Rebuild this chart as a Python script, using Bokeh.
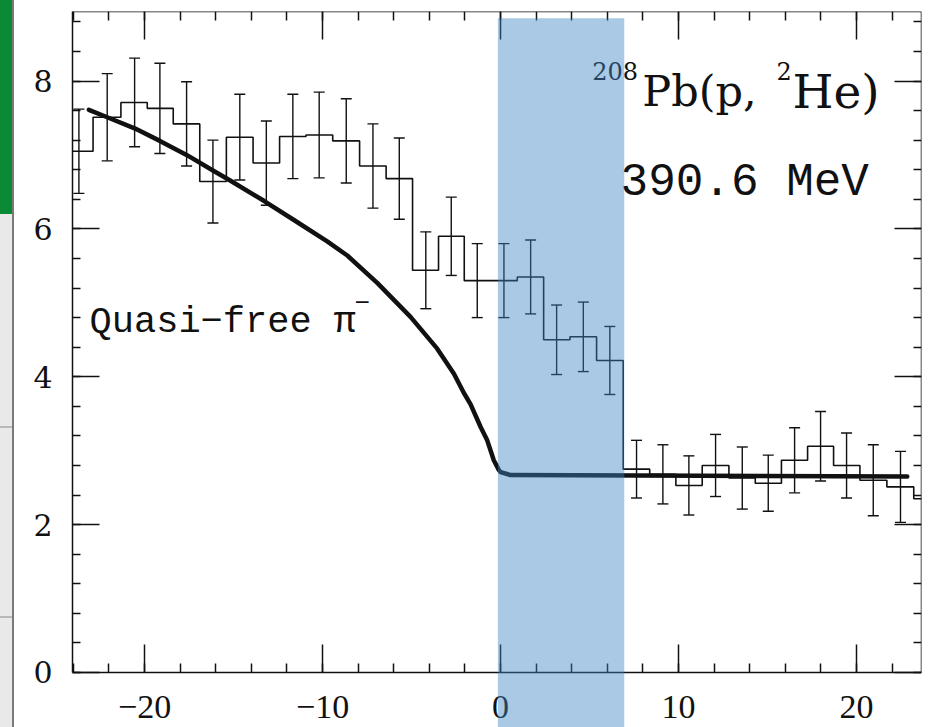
import numpy as np
from bokeh.plotting import figure
from bokeh.models import (LinearAxis, FixedTicker, BoxAnnotation, Whisker, TeeHead,
                          Label, ColumnDataSource, Range1d, Div)
from bokeh.layouts import row
from bokeh.embed import file_html
from bokeh.resources import INLINE

# ---------------- data ----------------
bin_centers = [-23.69, -22.10, -20.56, -19.14, -17.64, -16.16, -14.65, -13.16,
               -11.67, -10.19, -8.67, -7.17, -5.69, -4.20, -2.77, -1.31,
               0.19, 1.69, 3.15, 4.65, 6.14, 7.64, 9.12, 10.58,
               12.08, 13.58, 15.04, 16.52, 17.98, 19.44, 20.94, 22.47, 23.96]
counts = [7.05, 7.51, 7.71, 7.63, 7.42, 6.64, 7.24, 6.89,
          7.25, 7.27, 7.19, 6.85, 6.68, 5.44, 5.90, 5.30,
          5.30, 5.35, 4.50, 4.54, 4.22, 2.75, 2.68, 2.53,
          2.80, 2.63, 2.56, 2.87, 3.06, 2.80, 2.60, 2.51, 2.35]
errors = [0.57, 0.59, 0.60, 0.61, 0.57, 0.56, 0.58, 0.57,
          0.57, 0.58, 0.57, 0.57, 0.55, 0.52, 0.53, 0.50,
          0.50, 0.50, 0.47, 0.47, 0.46, 0.39, 0.40, 0.40,
          0.42, 0.42, 0.38, 0.44, 0.47, 0.44, 0.48, 0.48]

curve_x = [-23.13, -22.10, -20.56, -19.14, -17.64, -16.16, -15.17, -13.30,
           -11.61, -9.74, -8.61, -6.93, -5.06, -3.56, -2.62, -2.06,
           -1.69, -1.12, -0.75, -0.38, -0.10, 0.0, 0.56, 22.85]
curve_y = [7.61, 7.51, 7.36, 7.19, 7.00, 6.79, 6.65, 6.38,
           6.12, 5.83, 5.64, 5.27, 4.81, 4.38, 4.04, 3.78,
           3.63, 3.32, 3.14, 2.87, 2.74, 2.71, 2.67, 2.65]

band_start, band_end, band_top = -0.15, 6.95, 8.85

x_major = [-20, -10, 0, 10, 20]
x_labels = ["\u221220", "\u221210", "0", "10", "20"]
y_major = [0, 2, 4, 6, 8]
y_labels = ["0", "2", "4", "6", "8"]

X0, X1 = -24.05, 23.65
Y0, Y1 = -0.744, 8.94

# ---------------- derived ----------------
c = np.array(bin_centers)
mids = (c[1:] + c[:-1]) / 2
edges = np.concatenate([[c[0] - (mids[0] - c[0])], mids, [c[-1] + (c[-1] - mids[-1])]])
step_x = np.repeat(edges, 2)[1:-1]
step_y = np.repeat(np.array(counts), 2)

n_err = len(errors)
err_src = ColumnDataSource(dict(
    x=bin_centers[:n_err],
    upper=[v + e for v, e in zip(counts[:n_err], errors)],
    lower=[v - e for v, e in zip(counts[:n_err], errors)],
))

# ---------------- figure ----------------
p = figure(width=914, height=727, x_range=Range1d(X0, X1), y_range=Range1d(Y0, Y1),
           output_backend="svg", toolbar_location=None,
           x_axis_location=None, y_axis_location="left",
           min_border_left=58, min_border_right=7, min_border_top=11, min_border_bottom=0)
p.outline_line_color = None
p.grid.grid_line_color = None
p.background_fill_color = "white"
p.border_fill_color = "white"

ink = "#111111"

x_minor = list(range(-24, 25, 2))
y_minor = [round(0.4 * i, 2) for i in range(0, 23)]

def style_axis(ax, tick_in, minor_in):
    ax.axis_line_color = ink
    ax.axis_line_width = 1.5
    ax.major_tick_line_color = ink
    ax.minor_tick_line_color = ink
    ax.major_tick_line_width = 1.5
    ax.minor_tick_line_width = 1.5
    ax.major_tick_in = tick_in
    ax.major_tick_out = 0
    ax.minor_tick_in = minor_in
    ax.minor_tick_out = 0

# left axis
ly = p.yaxis[0]
ly.ticker = FixedTicker(ticks=y_major, minor_ticks=y_minor)
ly.major_label_overrides = {t: l for t, l in zip(y_major, y_labels)}
ly.bounds = (0, Y1)
style_axis(ly, 27, 8)
ly.major_label_standoff = 20
ly.major_label_text_font = "DejaVu Serif"
ly.major_label_text_font_size = "30px"
ly.major_label_text_color = ink

# right axis (frame side, no labels)
ry = LinearAxis(fixed_location=X1, bounds=(0, Y1),
                ticker=FixedTicker(ticks=y_major, minor_ticks=y_minor))
style_axis(ry, 27, 8)
ry.major_label_text_color = None
ry.major_label_text_alpha = 0
p.add_layout(ry, "right")

# bottom axis (drawn at y = 0 inside the tall frame)
bx = LinearAxis(fixed_location=0, bounds=(X0, X1),
                ticker=FixedTicker(ticks=x_major, minor_ticks=x_minor))
bx.major_label_overrides = {t: l for t, l in zip(x_major, x_labels)}
style_axis(bx, 28, 9)
bx.major_label_standoff = 24
bx.major_label_text_font = "Liberation Serif"
bx.major_label_text_font_size = "34px"
bx.major_label_text_color = ink
p.add_layout(bx, "below")

# top axis (frame side, no labels)
tx = LinearAxis(fixed_location=Y1, bounds=(X0, X1),
                ticker=FixedTicker(ticks=x_major, minor_ticks=x_minor))
style_axis(tx, 28, 9)
tx.major_label_text_color = None
tx.major_label_text_alpha = 0
p.add_layout(tx, "above")

# histogram
p.line(step_x, step_y, line_color=ink, line_width=1.6)
p.add_layout(Whisker(source=err_src, base="x", upper="upper", lower="lower",
                     dimension="height", line_color=ink, line_width=1.4,
                     upper_head=TeeHead(size=11, line_color=ink, line_width=1.4),
                     lower_head=TeeHead(size=11, line_color=ink, line_width=1.4)))

# quasi-free curve
p.line(curve_x, curve_y, line_color=ink, line_width=4.5, line_cap="round", line_join="round")

# texts
p.add_layout(Label(x=-23.09, y=4.74, text="Quasi\u2212free \u03c0", text_font="Liberation Mono",
                   text_font_size="37px", text_color=ink, text_baseline="alphabetic"))
p.add_layout(Label(x=-8.2, y=5.01, text="\u2212", text_font="Liberation Mono",
                   text_font_size="26px", text_color=ink, text_baseline="middle"))

p.add_layout(Label(x=5.15, y=8.14, text="208", text_font="DejaVu Serif",
                   text_font_size="24px", text_color=ink, text_baseline="alphabetic"))
p.add_layout(Label(x=7.96, y=7.86, text="Pb(p,", text_font="DejaVu Serif",
                   text_font_size="43px", text_color=ink, text_baseline="alphabetic"))
p.add_layout(Label(x=15.5, y=8.14, text="2", text_font="DejaVu Serif",
                   text_font_size="24px", text_color=ink, text_baseline="alphabetic"))
p.add_layout(Label(x=16.4, y=7.86, text="He)", text_font="DejaVu Serif",
                   text_font_size="47px", text_color=ink, text_baseline="alphabetic"))
p.add_layout(Label(x=6.74, y=6.62, text="390.6 MeV", text_font="Liberation Mono",
                   text_font_size="46px", text_color=ink, text_baseline="alphabetic"))

# highlighted band
p.add_layout(BoxAnnotation(left=band_start, right=band_end, top=band_top,
                           fill_color="#3b84c1", fill_alpha=0.44, line_color=None,
                           level="overlay"))

# left strip from the screenshot
strip = Div(text="", width=14, height=727, margin=0, styles={
    "background": ("linear-gradient(to right, rgba(0,0,0,0) 12px, #7a7a7a 12px, #7a7a7a 14px), "
                   "linear-gradient(to bottom, #0a8a34 0px, #0a8a34 214px, #e9e9e9 214px, "
                   "#e9e9e9 426px, #b8b8b8 426px, #b8b8b8 428px, #e9e9e9 428px, "
                   "#e9e9e9 616px, #b8b8b8 616px, #b8b8b8 618px, #e9e9e9 618px)")
})

layout = row(strip, p, spacing=0)
open("out.html", "w").write(file_html(layout, INLINE))
